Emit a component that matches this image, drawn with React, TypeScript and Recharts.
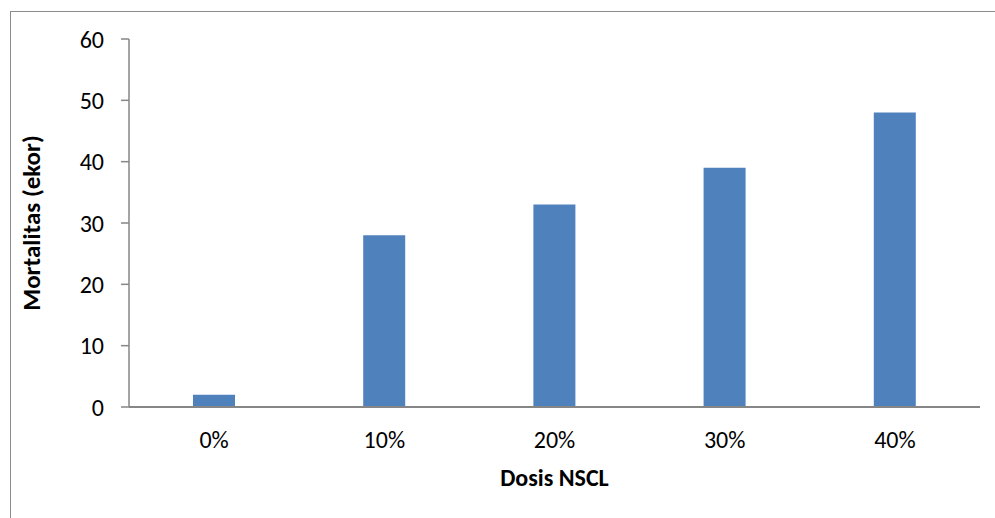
import React from "react";
import { BarChart, Bar, XAxis, YAxis, Label } from "recharts";

const doses = ["0%", "10%", "20%", "30%", "40%"];
const mortality = [2, 28, 33, 39, 48];
const yTicks = [0, 10, 20, 30, 40, 50, 60];

const data = doses.map((d, i) => ({ dose: d, value: mortality[i] }));

const font = "Carlito, Calibri, 'Open Sans', sans-serif";

export default function App() {
  return (
    <div
      style={{
        position: "absolute",
        left: 0,
        top: 0,
        width: 995,
        height: 518,
        overflow: "hidden",
        background: "#fff",
        fontFamily: font,
      }}
    >
      <div
        style={{
          position: "absolute",
          left: 10,
          top: 11,
          width: 1100,
          height: 700,
          border: "1.5px solid #8c8c8c",
        }}
      />
      <BarChart
        width={995}
        height={518}
        data={data}
        margin={{ top: 39, right: 15, left: 0, bottom: 81 }}
        style={{ position: "absolute", left: 0, top: 0 }}
      >
        <XAxis
          dataKey="dose"
          height={30}
          tickLine={false}
          axisLine={{ stroke: "#868686", strokeWidth: 2 }}
          tick={{ fill: "#000", fontSize: 24, fontFamily: font }}
          tickMargin={18}
        >
          <Label
            value="Dosis NSCL"
            position="insideBottom"
            offset={-49}
            style={{ fill: "#000", fontSize: 24, fontWeight: "bold", fontFamily: font }}
          />
        </XAxis>
        <YAxis
          width={129}
          domain={[0, 60]}
          ticks={yTicks}
          interval={0}
          tickSize={8}
          tickMargin={17}
          tickLine={{ stroke: "#868686", strokeWidth: 1.5 }}
          axisLine={{ stroke: "#868686", strokeWidth: 1.5 }}
          tick={{ fill: "#000", fontSize: 24, fontFamily: font }}
        >
          <Label
            value="Mortalitas (ekor)"
            angle={-90}
            position="insideLeft"
            offset={31}
            style={{ textAnchor: "middle", fill: "#000", fontSize: 25, fontWeight: "bold", fontFamily: font }}
          />
        </YAxis>
        <Bar dataKey="value" fill="#4f81bd" barSize={42} isAnimationActive={false} />
      </BarChart>
    </div>
  );
}
